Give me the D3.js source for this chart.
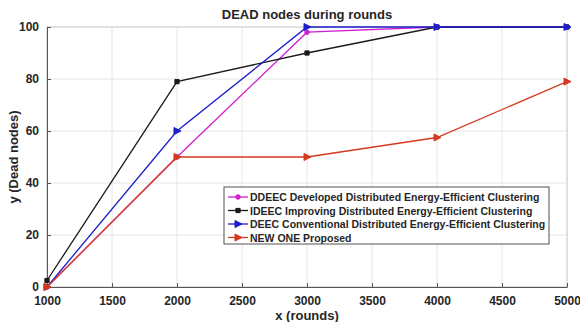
<!DOCTYPE html>
<html>
<head>
<meta charset="utf-8">
<script src="https://cdn.jsdelivr.net/npm/d3@7"></script>
<style>
  body { margin: 0; background: #fff; }
  text { font-family: "Liberation Sans", Arial, sans-serif; font-weight: bold; fill: #262626; }
</style>
</head>
<body>
<svg width="580" height="322"></svg>
<script>
// data
let rounds = [1000, 2000, 3000, 4000, 5000];
let ddeec = [0, 50, 98, 100, 100];
let ideec = [2.5, 79, 90, 100, 100];
let deec = [0, 60, 100, 100, 100];
let newOne = [0, 50, 50, 57.5, 79];
let xTicks = [1000, 1500, 2000, 2500, 3000, 3500, 4000, 4500, 5000];
let yTicks = [0, 20, 40, 60, 80, 100];
let seriesNames = [
    "DDEEC Developed Distributed Energy-Efficient Clustering",
    "IDEEC Improving Distributed Energy-Efficient Clustering",
    "DEEC Conventional Distributed Energy-Efficient Clustering",
    "NEW ONE Proposed"
];

let margin = { left: 47, right: 13, up: 27, down: 35 };
var svg = d3.select("svg");
var width = svg.attr("width") - margin.left - margin.right;
var height = svg.attr("height") - margin.up - margin.down;

var plot = svg.append("g")
    .attr("transform", "translate(" + margin.left + "," + margin.up + ")");

let xScale = d3.scaleLinear().domain([1000, 5000]).range([0, width]);
let yScale = d3.scaleLinear().domain([0, 100]).range([height, 0]);

// grid
plot.append("g").selectAll("line").data(xTicks).enter().append("line")
    .attr("x1", d => xScale(d)).attr("x2", d => xScale(d))
    .attr("y1", 0).attr("y2", height)
    .attr("stroke", "#e6e6e6");
plot.append("g").selectAll("line").data(yTicks).enter().append("line")
    .attr("y1", d => yScale(d)).attr("y2", d => yScale(d))
    .attr("x1", 0).attr("x2", width)
    .attr("stroke", "#e6e6e6");

// box
plot.append("rect")
    .attr("width", width).attr("height", height)
    .attr("fill", "none").attr("stroke", "#d0d0d0");

// axes
let xAxis = d3.axisBottom(xScale).tickValues(xTicks).tickFormat(d3.format("d"))
    .tickSizeInner(-4).tickSizeOuter(0).tickPadding(9);
let yAxis = d3.axisLeft(yScale).tickValues(yTicks)
    .tickSizeInner(-4).tickSizeOuter(0).tickPadding(8);

plot.append("g")
    .attr("transform", "translate(0," + height + ")")
    .call(xAxis)
    .call(g => g.select(".domain").attr("stroke", "#555"))
    .call(g => g.selectAll(".tick line").attr("stroke", "#555"))
    .selectAll("text").style("font-size", "12px").attr("fill", "#262626");

plot.append("g")
    .call(yAxis)
    .call(g => g.select(".domain").attr("stroke", "#555"))
    .call(g => g.selectAll(".tick line").attr("stroke", "#555"))
    .selectAll("text").style("font-size", "12px").attr("fill", "#262626");

// series
let series = [
    { name: seriesNames[0], values: ddeec, color: "#d11fd1", marker: "circle" },
    { name: seriesNames[1], values: ideec, color: "#1a1a1a", marker: "square" },
    { name: seriesNames[2], values: deec, color: "#1d1dcc", marker: "triangle" },
    { name: seriesNames[3], values: newOne, color: "#d43a1e", marker: "triangle" }
];

let line = d3.line()
    .x((d, i) => xScale(rounds[i]))
    .y(d => yScale(d));

function markerPath(type) {
    if (type == "circle") return d3.symbol(d3.symbolCircle, 16)();
    if (type == "square") return d3.symbol(d3.symbolSquare, 18)();
    return "M-3,-3.5L4,0L-3,3.5Z";
}

series.forEach(function (s) {
    plot.append("path")
        .datum(s.values)
        .attr("d", line)
        .attr("fill", "none")
        .attr("stroke", s.color)
        .attr("stroke-width", 1.3);
    plot.selectAll(".m").data(s.values).enter().append("path")
        .attr("transform", (d, i) => "translate(" + xScale(rounds[i]) + "," + yScale(d) + ")")
        .attr("d", markerPath(s.marker))
        .attr("fill", s.color)
        .attr("stroke", s.color);
});

// title and axis labels
svg.append("text")
    .attr("x", margin.left + width / 2).attr("y", 19)
    .attr("text-anchor", "middle")
    .style("font-size", "13px")
    .text("DEAD nodes during rounds");

svg.append("text")
    .attr("x", margin.left + width / 2).attr("y", 320)
    .attr("text-anchor", "middle")
    .style("font-size", "13px")
    .text("x (rounds)");

svg.append("text")
    .attr("transform", "translate(18," + (margin.up + height / 2) + ") rotate(-90)")
    .attr("text-anchor", "middle")
    .style("font-size", "13px")
    .text("y (Dead nodes)");

// legend
let legend = svg.append("g").attr("transform", "translate(224,187)");
legend.append("rect")
    .attr("width", 325).attr("height", 57)
    .attr("fill", "#fff").attr("stroke", "#262626").attr("stroke-width", 0.8);

series.forEach(function (s, i) {
    let ly = 10 + i * 13.5;
    legend.append("line")
        .attr("x1", 4).attr("x2", 24).attr("y1", ly).attr("y2", ly)
        .attr("stroke", s.color).attr("stroke-width", 1.3);
    legend.append("path")
        .attr("transform", "translate(14," + ly + ")")
        .attr("d", markerPath(s.marker))
        .attr("fill", s.color).attr("stroke", s.color);
    legend.append("text")
        .attr("x", 26).attr("y", ly + 4)
        .style("font-size", "10.5px")
        .text(s.name);
});
</script>
</body>
</html>
